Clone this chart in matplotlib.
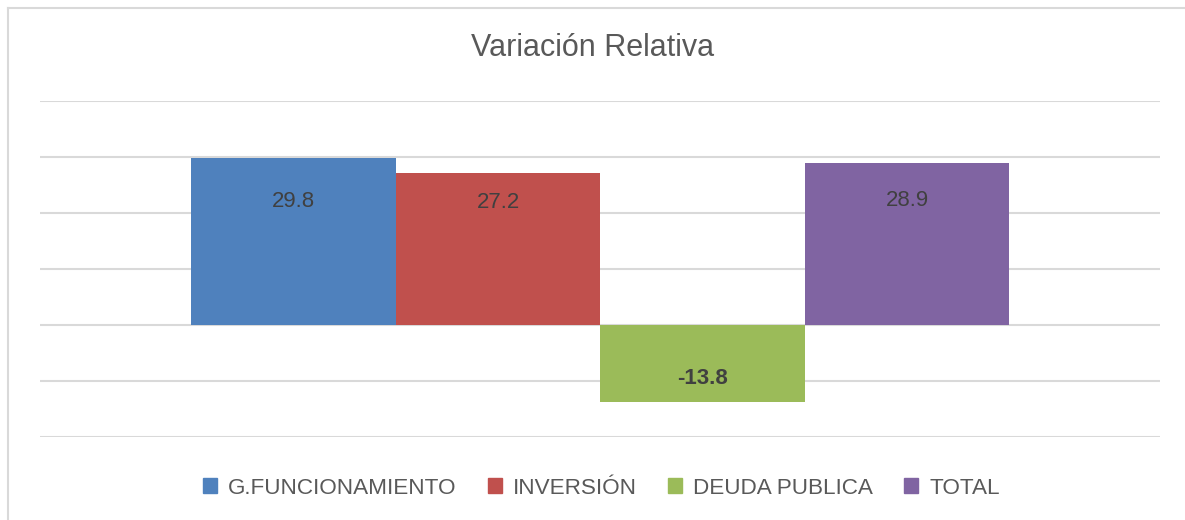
import matplotlib.pyplot as plt
from matplotlib.lines import Line2D
from matplotlib.patches import Patch

categories = ["G.FUNCIONAMIENTO", "INVERSIÓN", "DEUDA PUBLICA", "TOTAL"]
values = [29.8, 27.2, -13.8, 28.9]
colors = ["#4f81bd", "#c0504d", "#9bbb59", "#8064a2"]

# where Excel put the data labels (in data units)
label_y = [22.1, 21.8, -9.6, 22.3]

plt.rcParams["font.family"] = ["Liberation Sans", "DejaVu Sans"]

fig = plt.figure(figsize=(11.85, 5.2), dpi=100)
ax = fig.add_axes([40 / 1185, 83 / 520, 1120 / 1185, 336 / 520])

x = list(range(len(values)))
ax.bar(x, values, width=1.0, color=colors, zorder=2)

for xi, v, ly in zip(x, values, label_y):
    ax.text(xi, ly, f"{v:.1f}", ha="center", va="center", fontsize=16,
            color="#404040", fontweight="bold" if v < 0 else "normal", zorder=3)

ax.set_ylim(-20, 40)
ax.set_yticks(range(-20, 41, 10))
ax.set_xlim(-1.24, 4.237)
ax.grid(axis="y", color="#d9d9d9", linewidth=1.5, zorder=0)
ax.tick_params(left=False, bottom=False, labelleft=False, labelbottom=False)
for s in ax.spines.values():
    s.set_visible(False)

fig.text(0.5, 1 - 48 / 520, "Variación Relativa", ha="center", va="center",
         fontsize=22, color="#595959")

handles = [Patch(color=c) for c in colors]
fig.legend(handles, categories, loc="center", bbox_to_anchor=(0.5 + 9 / 1185, 1 - 488 / 520),
           ncol=4, frameon=False, handlelength=0.6, handleheight=0.6,
           handletextpad=0.5, columnspacing=1.4, labelcolor="#595959",
           prop={"family": ["Liberation Sans", "DejaVu Sans"], "size": 16.2})

# outer chart frame
fig.add_artist(Line2D([8 / 1185, 8 / 1185], [0, 1 - 8 / 520], color="#d9d9d9", linewidth=1.5))
fig.add_artist(Line2D([8 / 1185, 1], [1 - 8 / 520, 1 - 8 / 520], color="#d9d9d9", linewidth=1.5))

fig.savefig("out.png", dpi=100, facecolor="white")
